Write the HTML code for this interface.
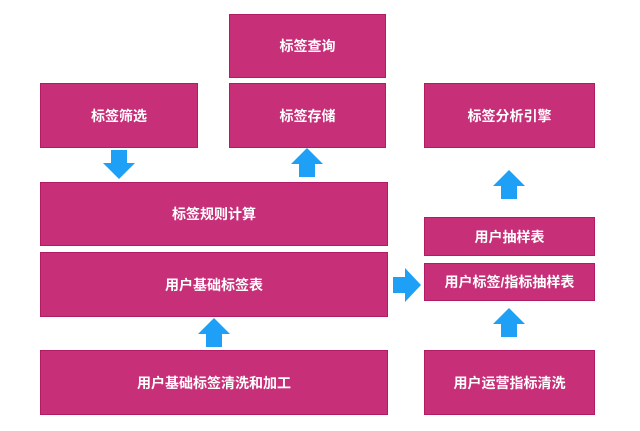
<!DOCTYPE html>
<html><head><meta charset="utf-8"><style>
body{margin:0;width:640px;height:431px;background:#fff;position:relative;overflow:hidden;font-family:"Liberation Sans","Noto Sans CJK SC",sans-serif}
.b{position:absolute;background:#c72f78;border:1px solid #b21c64;box-sizing:border-box;color:#fff;font-weight:bold;font-size:14px;display:flex;align-items:center;justify-content:center}
svg{position:absolute;left:0;top:0}
</style></head><body>
<div class="b" style="left:229px;top:14px;width:157px;height:64px">标签查询</div>
<div class="b" style="left:40px;top:83px;width:158px;height:65px">标签筛选</div>
<div class="b" style="left:229px;top:83px;width:157px;height:65px">标签存储</div>
<div class="b" style="left:424px;top:83px;width:171px;height:65px">标签分析引擎</div>
<div class="b" style="left:40px;top:182px;width:348px;height:64px">标签规则计算</div>
<div class="b" style="left:40px;top:252px;width:348px;height:65px">用户基础标签表</div>
<div class="b" style="left:40px;top:350px;width:348px;height:65px">用户基础标签清洗和加工</div>
<div class="b" style="left:424px;top:217px;width:171px;height:39px">用户抽样表</div>
<div class="b" style="left:424px;top:263px;width:171px;height:38px">用户标签/指标抽样表</div>
<div class="b" style="left:424px;top:350px;width:171px;height:65px">用户运营指标清洗</div>
<svg width="640" height="431" fill="#1ea0f6">
<polygon points="111,150 127,150 127,163 135,163 119,179 103,163 111,163"/>
<polygon points="299,177 315,177 315,164 323,164 307,148 291,164 299,164"/>
<polygon points="501,199 517,199 517,186 525,186 509,170 493,186 501,186"/>
<polygon points="206,347 222,347 222,334 230,334 214,318 198,334 206,334"/>
<polygon points="501,337 517,337 517,324 525,324 509,308 493,324 501,324"/>
<polygon points="393,277 405,277 405,268 421,285 405,302 405,293 393,293"/>
</svg>
</body></html>
